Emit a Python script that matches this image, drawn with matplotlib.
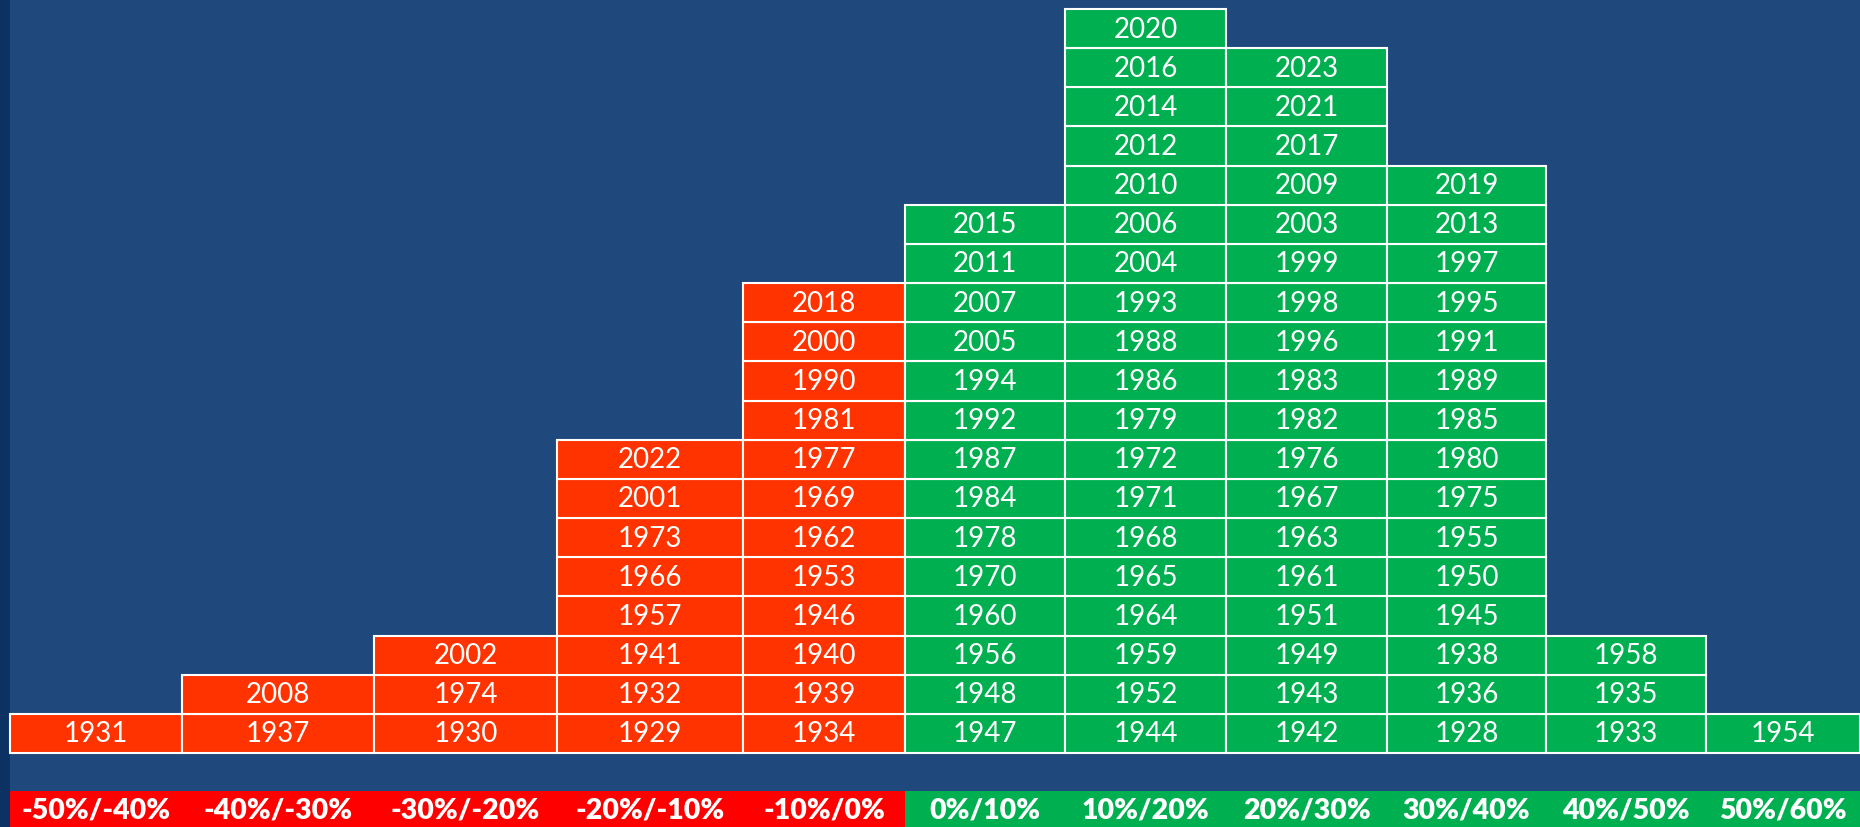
import matplotlib.pyplot as plt
from matplotlib.patches import Rectangle

# return buckets and the years that fell into each (bottom to top)
buckets = ['-50%/-40%', '-40%/-30%', '-30%/-20%', '-20%/-10%', '-10%/0%',
           '0%/10%', '10%/20%', '20%/30%', '30%/40%', '40%/50%', '50%/60%']
years_m50 = [1931]
years_m40 = [1937, 2008]
years_m30 = [1930, 1974, 2002]
years_m20 = [1929, 1932, 1941, 1957, 1966, 1973, 2001, 2022]
years_m10 = [1934, 1939, 1940, 1946, 1953, 1962, 1969, 1977, 1981, 1990, 2000, 2018]
years_p0 = [1947, 1948, 1956, 1960, 1970, 1978, 1984, 1987, 1992, 1994, 2005, 2007, 2011, 2015]
years_p10 = [1944, 1952, 1959, 1964, 1965, 1968, 1971, 1972, 1979, 1986, 1988, 1993,
             2004, 2006, 2010, 2012, 2014, 2016, 2020]
years_p20 = [1942, 1943, 1949, 1951, 1961, 1963, 1967, 1976, 1982, 1983, 1996, 1998,
             1999, 2003, 2009, 2017, 2021, 2023]
years_p30 = [1928, 1936, 1938, 1945, 1950, 1955, 1975, 1980, 1985, 1989, 1991, 1995,
             1997, 2013, 2019]
years_p40 = [1933, 1935, 1958]
years_p50 = [1954]
columns = [years_m50, years_m40, years_m30, years_m20, years_m10,
           years_p0, years_p10, years_p20, years_p30, years_p40, years_p50]
negative = [True] * 5 + [False] * 6

# layout (pixels)
col_widths = [172, 192, 183, 186, 162, 160, 161, 161, 159, 160, 154]
x0 = 10
row_h = 39.16
base = 74
strip_h = 36

bg = '#1F497D'
cell_red = '#FF3300'
cell_green = '#00B050'
strip_red = '#FF0000'

fig = plt.figure(figsize=(18.6, 8.28), dpi=100)
fig.patch.set_facecolor(bg)
ax = fig.add_axes([0, 0, 1, 1])
ax.set_facecolor(bg)
ax.set_xlim(0, 1860)
ax.set_ylim(0, 828)
ax.axis('off')

ax.add_patch(Rectangle((0, 0), x0, 828, facecolor='#0B3263', edgecolor='none'))

left = x0
for label, years, neg, w in zip(buckets, columns, negative, col_widths):
    fc = cell_red if neg else cell_green
    bottoms = [base + i * row_h for i in range(len(years))]
    ax.bar([left + w / 2] * len(years), [row_h] * len(years), width=w,
           bottom=bottoms, color=fc, edgecolor='white', linewidth=1.5)
    for b, yr in zip(bottoms, years):
        ax.text(left + w / 2, b + row_h / 2, str(yr), color='white',
                ha='center', va='center', fontsize=20, fontfamily='Lato',
                fontweight='normal')
    ax.bar(left + w / 2, strip_h, width=w, bottom=0,
           color=strip_red if neg else cell_green, edgecolor='none')
    ax.text(left + w / 2, strip_h / 2 - 1, label, color='white', ha='center',
            va='center', fontsize=20.5, fontfamily='Lato', fontweight='heavy')
    left += w

fig.savefig('out.png', dpi=100, facecolor=bg)
